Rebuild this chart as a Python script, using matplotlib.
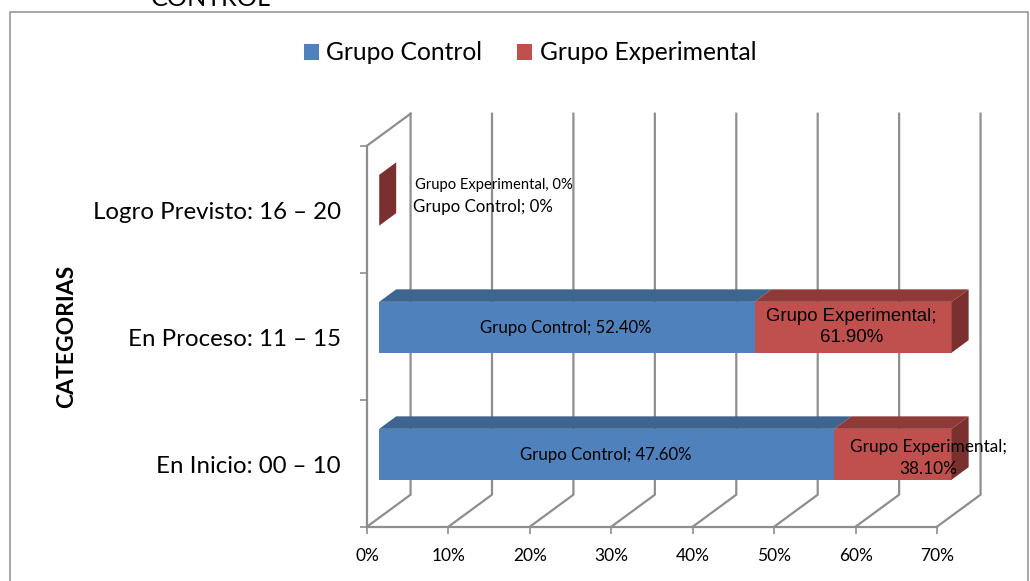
import matplotlib
matplotlib.use("Agg")
import matplotlib.pyplot as plt
from matplotlib.patches import Polygon, Rectangle

W, H = 1030, 581

categories = ["En Inicio: 00 – 10", "En Proceso: 11 – 15", "Logro Previsto: 16 – 20"]
# bar lengths as drawn (they do not agree with the printed labels)
control_drawn = [55.9, 46.1, 0.0]
experimental_drawn = [14.4, 24.2, 0.0]
control_labels = ["Grupo Control; 47.60%", "Grupo Control; 52.40%", "Grupo Control; 0%"]
experimental_labels = ["Grupo Experimental;\n38.10%", "Grupo Experimental;\n61.90%", "Grupo Experimental, 0%"]
xticks = [0, 10, 20, 30, 40, 50, 60, 70]

GRID = "#8e8e8e"
BLUE, BLUE_TOP = "#4f81bd", "#3e6490"
RED, RED_TOP, RED_SIDE = "#c0504d", "#8e3a38", "#79302e"
TEXT_FONT = ["Lato", "DejaVu Sans"]
ARIAL = ["Liberation Sans", "DejaVu Sans"]

# depth of the fake 3D box, in data units
DEPTH_X, DEPTH_Y = 5.35, 0.252
BAR_NEAR, BAR_FAR = 0.28, 0.67
BAR_BOTTOM, BAR_HEIGHT = 0.3, 0.4


def px(x, y):
    """figure fraction from image pixels"""
    return x / W, 1 - y / H


def shifted(x, y, d):
    return x + DEPTH_X * d, y + DEPTH_Y * d


def box(ax, left, width, y0, front, top, side=None):
    dx0, dy0 = shifted(left, y0, BAR_NEAR)
    h = BAR_HEIGHT
    ax.barh(dy0, width, height=h, left=dx0, align="edge", color=front, zorder=4, clip_on=False)
    x0, x1 = dx0, dx0 + width
    far = BAR_FAR - BAR_NEAR
    ax.add_patch(Polygon([(x0, dy0 + h), (x1, dy0 + h),
                          (x1 + DEPTH_X * far, dy0 + h + DEPTH_Y * far),
                          (x0 + DEPTH_X * far, dy0 + h + DEPTH_Y * far)],
                         closed=True, fc=top, ec="none", zorder=4, clip_on=False))
    if side:
        ax.add_patch(Polygon([(x1, dy0), (x1, dy0 + h),
                              (x1 + DEPTH_X * far, dy0 + h + DEPTH_Y * far),
                              (x1 + DEPTH_X * far, dy0 + DEPTH_Y * far)],
                             closed=True, fc=side, ec="none", zorder=4, clip_on=False))


fig = plt.figure(figsize=(W / 100, H / 100), dpi=100)
fig.patches.append(Rectangle(px(9.5, 590), 1018.5 / W, 578 / H, transform=fig.transFigure,
                             fc="none", ec=GRID, lw=1.1))
fig.text(*px(211, 6), "CONTROL", ha="center", va="baseline", fontsize=18.2,
         family=TEXT_FONT, color="black")

left, bottom = px(367, 526.7)
ax = fig.add_axes([left, bottom, 570 / W, 381 / H])
ax.set_xlim(0, 70)
ax.set_ylim(0, 3)
ax.patch.set_visible(False)
for s in ["top", "right"]:
    ax.spines[s].set_visible(False)
for s in ["left", "bottom"]:
    ax.spines[s].set_color(GRID)
    ax.spines[s].set_linewidth(1.6)

# back wall and floor lines
for t in xticks:
    bx, by = shifted(t, 0, 1)
    tx, ty = shifted(t, 3, 1)
    ax.plot([t, bx, tx], [0, by, ty], color=GRID, lw=1.6, clip_on=False, zorder=1)
tx, ty = shifted(0, 3, 1)
ax.plot([0, tx], [3, ty], color=GRID, lw=1.6, clip_on=False, zorder=1)

for i in range(len(categories)):
    w_c, w_e = control_drawn[i], experimental_drawn[i]
    if w_c + w_e == 0:
        # only the end cap of the empty bar shows
        box(ax, 0, 0, i + BAR_BOTTOM, RED, RED_SIDE, RED_SIDE)
        continue
    box(ax, 0, w_c, i + BAR_BOTTOM, BLUE, BLUE_TOP)
    box(ax, w_c, w_e, i + BAR_BOTTOM, RED, RED_TOP, RED_SIDE)

ax.set_xticks(xticks)
ax.set_xticklabels([f"{t}%" for t in xticks], family=TEXT_FONT, fontsize=12.5)
ax.set_yticks([0, 1, 2, 3])
ax.set_yticklabels([])
ax.tick_params(axis="both", color=GRID, width=1.2, length=5)
ax.tick_params(axis="x", pad=10.5)

for i, c in enumerate(categories):
    ax.annotate(c, xy=(0, i + 0.5), xytext=(-26, -3.5), textcoords="offset pixels",
                ha="right", va="center", family=TEXT_FONT, fontsize=17.3)
fig.text(*px(67, 336), "CATEGORIAS", rotation=90, ha="center", va="center",
         family=TEXT_FONT, fontsize=16.5, fontweight="bold")

# data labels, placed by hand like in the original
fig.text(*px(606, 455), control_labels[0], ha="center", va="center", family=TEXT_FONT, fontsize=12.1)
fig.text(*px(566, 328), control_labels[1], ha="center", va="center", family=TEXT_FONT, fontsize=12.1)
fig.text(*px(483, 207), control_labels[2], ha="center", va="center", family=TEXT_FONT, fontsize=12.2)
fig.text(*px(928, 458), experimental_labels[0], ha="center", va="center", family=TEXT_FONT,
         fontsize=12.4, linespacing=1.5)
fig.text(*px(851.5, 327), experimental_labels[1], ha="center", va="center", family=ARIAL,
         fontsize=13.4, linespacing=1.3)
fig.text(*px(494, 185), experimental_labels[2], ha="center", va="center", family=TEXT_FONT, fontsize=10.6)

# legend
handles = [Rectangle((0, 0), 1, 1, fc=BLUE), Rectangle((0, 0), 1, 1, fc=RED)]
fig.legend(handles, ["Grupo Control", "Grupo Experimental"], loc="center",
           bbox_to_anchor=px(530, 53), ncol=2, frameon=False, handlelength=0.62,
           handleheight=0.62, handletextpad=0.3, columnspacing=1.42,
           prop={"family": TEXT_FONT, "size": 17.7})

fig.savefig("out.png", dpi=100)
